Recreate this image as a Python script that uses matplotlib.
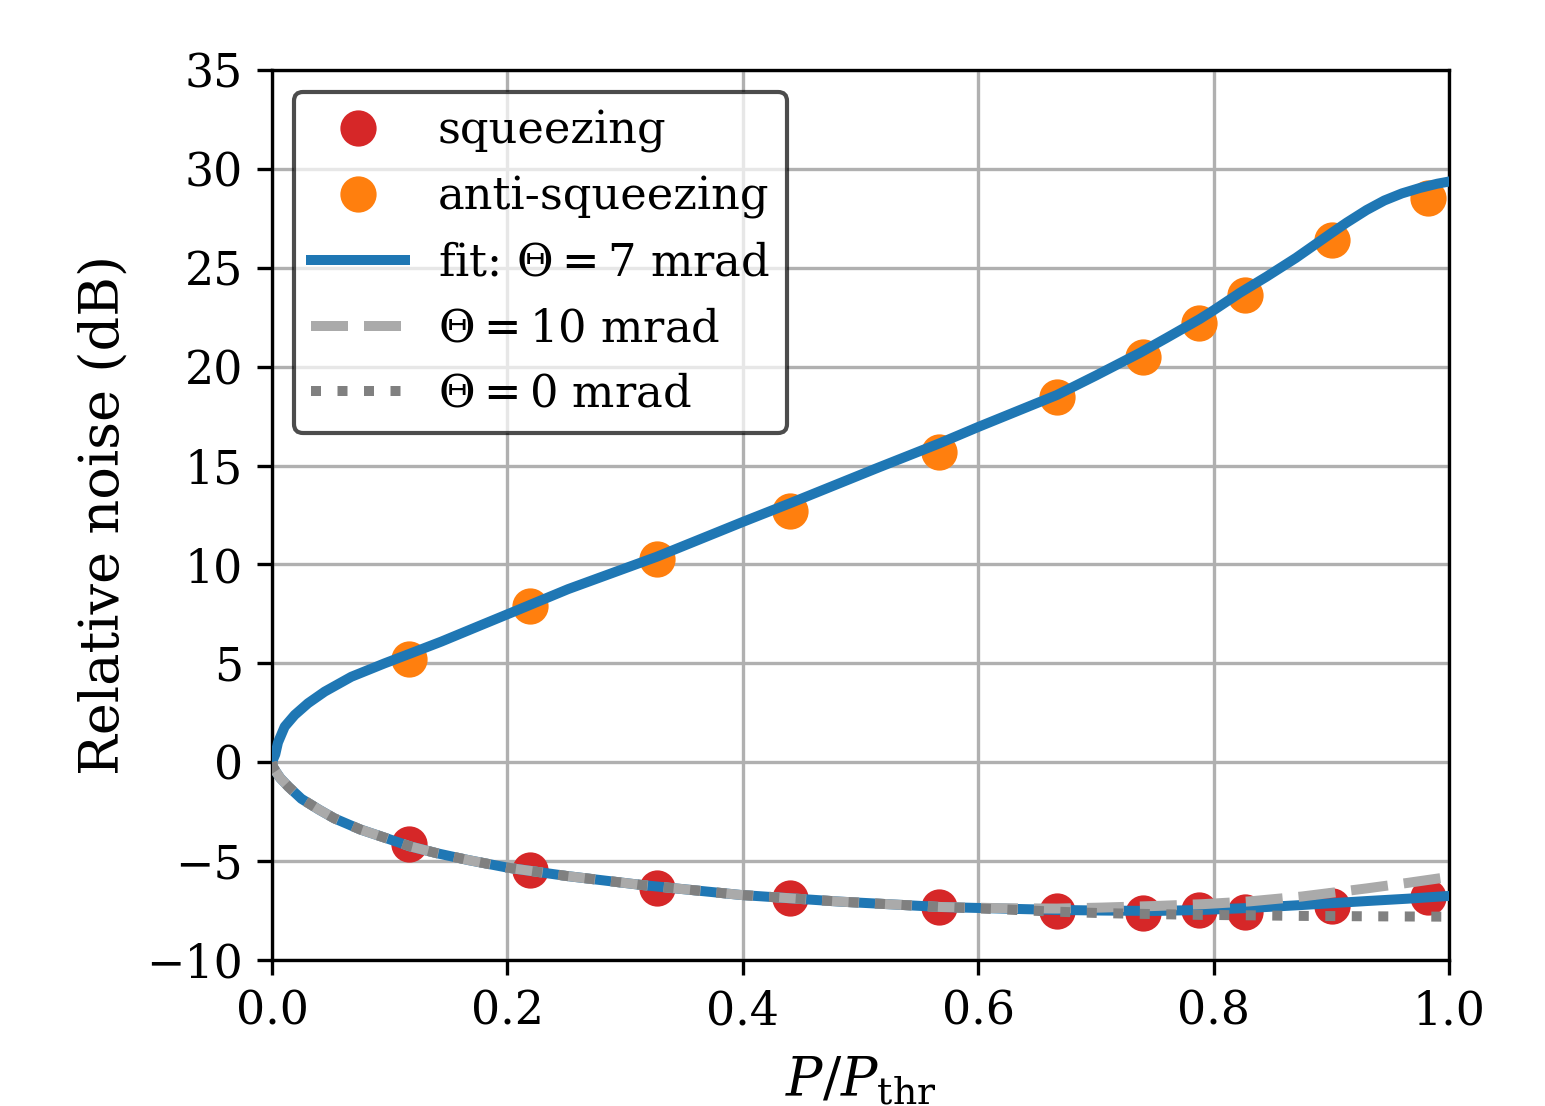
import matplotlib
matplotlib.use("Agg")
import matplotlib.pyplot as plt

plt.rcParams['font.family'] = ['DejaVu Serif']
plt.rcParams['mathtext.fontset'] = 'dejavuserif'

# measured points
x_data = [0.116, 0.219, 0.327, 0.440, 0.567, 0.667, 0.740, 0.788, 0.827, 0.901, 0.982]
squeezing = [-4.13, -5.45, -6.38, -6.88, -7.30, -7.51, -7.64, -7.47, -7.56, -7.27, -6.80]
anti_squeezing = [5.22, 7.90, 10.26, 12.72, 15.67, 18.48, 20.50, 22.19, 23.62, 26.40, 28.54]

# fit curve (upper branch), Theta = 7 mrad
x_up = [0.0, 0.001, 0.0028, 0.0051, 0.0108, 0.0193, 0.0306, 0.0448, 0.0674, 0.0957,
        0.1155, 0.1439, 0.178, 0.209, 0.2515, 0.327, 0.400, 0.440, 0.514, 0.567,
        0.600, 0.667, 0.700, 0.7375, 0.760, 0.788, 0.800, 0.822, 0.845, 0.870,
        0.900, 0.913, 0.930, 0.945, 0.960, 0.975, 0.990, 1.0]
fit_up = [0.0, 0.15, 0.40, 1.00, 1.80, 2.39, 2.98, 3.57, 4.32, 5.00,
          5.45, 6.10, 6.94, 7.70, 8.75, 10.39, 12.15, 13.09, 14.87, 16.12,
          16.95, 18.57, 19.55, 20.70, 21.45, 22.40, 22.85, 23.72, 24.55, 25.50,
          26.75, 27.28, 27.92, 28.40, 28.76, 29.03, 29.25, 29.36]

# lower branch curves
x_low = [0.0, 0.001, 0.003, 0.007, 0.014, 0.025, 0.040, 0.053, 0.075, 0.100,
         0.117, 0.140, 0.167, 0.200, 0.250, 0.313, 0.398, 0.483, 0.568, 0.620,
         0.667, 0.705, 0.750, 0.790, 0.830, 0.875, 0.930, 0.965, 1.0]
fit_low = [0.0, -0.25, -0.45, -0.80, -1.24, -1.85, -2.40, -2.84, -3.40, -3.90,
           -4.25, -4.60, -4.95, -5.33, -5.75, -6.20, -6.71, -7.05, -7.32, -7.40,
           -7.47, -7.50, -7.52, -7.47, -7.37, -7.22, -7.02, -6.90, -6.76]
theta10_low = [0.0, -0.25, -0.45, -0.80, -1.24, -1.85, -2.40, -2.84, -3.40, -3.90,
               -4.25, -4.60, -4.95, -5.33, -5.75, -6.20, -6.71, -7.05, -7.32, -7.38,
               -7.40, -7.35, -7.27, -7.18, -7.04, -6.79, -6.38, -6.10, -5.80]
theta0_low = [0.0, -0.25, -0.45, -0.80, -1.24, -1.85, -2.40, -2.84, -3.40, -3.90,
              -4.25, -4.60, -4.95, -5.33, -5.75, -6.20, -6.71, -7.05, -7.32, -7.44,
              -7.56, -7.63, -7.68, -7.72, -7.74, -7.77, -7.79, -7.80, -7.81]

fig = plt.figure(figsize=(5.15, 3.6867), dpi=300)
ax = fig.add_axes([0.17605, 0.13201, 0.76181, 0.80470])

lw = 2.4
ax.plot(x_data, squeezing, 'o', color='#d62728', markersize=7.7, label='squeezing', zorder=3)
ax.plot(x_data, anti_squeezing, 'o', color='#ff7f0e', markersize=7.7, label='anti-squeezing', zorder=3)
ax.plot(x_up, fit_up, '-', color='#1f77b4', lw=lw, label=r'fit: $\Theta = 7$ mrad', zorder=4)
ax.plot(x_low, fit_low, '-', color='#1f77b4', lw=lw, zorder=4)
ax.plot(x_low, theta10_low, '--', color='#aaaaaa', lw=lw, label=r'$\Theta = 10$ mrad', zorder=5)
ax.plot(x_low, theta0_low, ':', color='#808080', lw=lw, label=r'$\Theta = 0$ mrad', zorder=6)

ax.set_xlim(0, 1.0)
ax.set_ylim(-10, 35)
ax.set_xticks([0.0, 0.2, 0.4, 0.6, 0.8, 1.0])
ax.set_yticks([-10, -5, 0, 5, 10, 15, 20, 25, 30, 35])
ax.tick_params(labelsize=11, width=0.8)
ax.grid(True, color='#b0b0b0', lw=0.8)
ax.set_axisbelow(True)
for s in ax.spines.values():
    s.set_linewidth(0.8)

ax.set_xlabel(r'$P/P_{\mathrm{thr}}$', fontsize=13, labelpad=4.8)
ax.set_ylabel('Relative noise (dB)', fontsize=13)

leg = ax.legend(loc='upper left', fontsize=10.75, handlelength=2.1, handletextpad=0.72,
                borderpad=0.38, framealpha=0.7, edgecolor='k')

fig.savefig('out.png', dpi=300)
